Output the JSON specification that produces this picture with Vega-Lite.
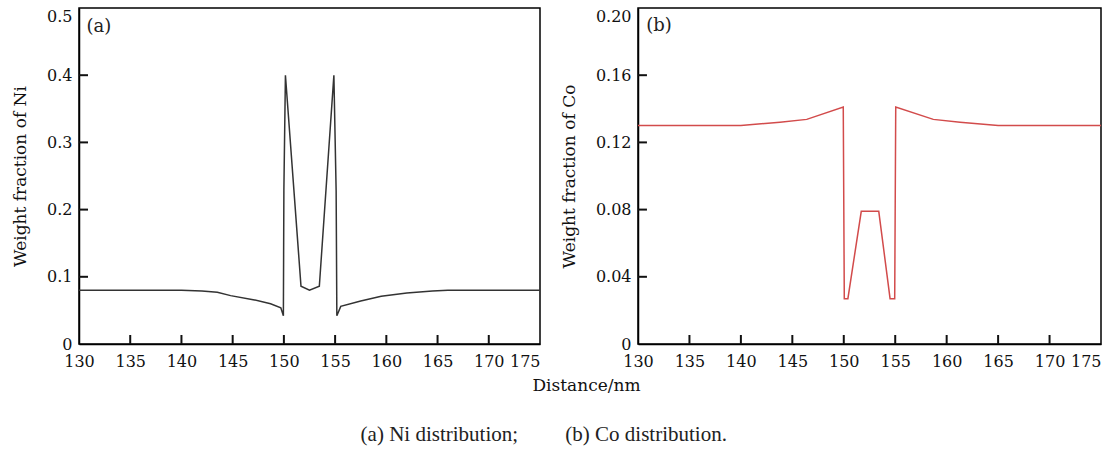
{
  "$schema": "https://vega.github.io/schema/vega-lite/v6.json",
  "background": "white",
  "padding": {"left": 10, "top": 7, "right": 9, "bottom": 1},
  "config": {
    "font": "DejaVu Serif",
    "view": {"stroke": "black", "strokeWidth": 1.5},
    "axis": {
      "grid": false,
      "ticks": false,
      "domainColor": "black",
      "domainWidth": 1.5,
      "labelFont": "DejaVu Serif",
      "labelFontSize": 16,
      "labelColor": "#111",
      "titleFont": "DejaVu Serif",
      "titleFontSize": 17,
      "titleFontWeight": "normal",
      "titleColor": "#111"
    }
  },
  "title": {
    "text": "(a) Ni distribution;\u2003\u2003 (b) Co distribution.",
    "orient": "bottom",
    "anchor": "middle",
    "font": "Liberation Serif",
    "fontSize": 21,
    "fontWeight": "normal",
    "color": "#222",
    "offset": 30,
    "dx": -14
  },
  "datasets": {
    "ni": [
      {"distance": 130, "ni": 0.08},
      {"distance": 140, "ni": 0.08},
      {"distance": 142, "ni": 0.079},
      {"distance": 143.5, "ni": 0.077},
      {"distance": 144.8, "ni": 0.072},
      {"distance": 147, "ni": 0.066},
      {"distance": 148.7, "ni": 0.06},
      {"distance": 149.7, "ni": 0.054},
      {"distance": 149.95, "ni": 0.042},
      {"distance": 150.0, "ni": 0.23},
      {"distance": 150.15, "ni": 0.4},
      {"distance": 151.67, "ni": 0.086},
      {"distance": 152.5, "ni": 0.08},
      {"distance": 153.46, "ni": 0.086},
      {"distance": 154.88, "ni": 0.4},
      {"distance": 155.1, "ni": 0.228},
      {"distance": 155.17, "ni": 0.042},
      {"distance": 155.55, "ni": 0.056},
      {"distance": 157.5, "ni": 0.064},
      {"distance": 159.5, "ni": 0.071},
      {"distance": 162, "ni": 0.076},
      {"distance": 164.5, "ni": 0.079},
      {"distance": 166, "ni": 0.08},
      {"distance": 175, "ni": 0.08}
    ],
    "co": [
      {"distance": 130, "co": 0.13},
      {"distance": 140, "co": 0.13},
      {"distance": 143.8, "co": 0.132},
      {"distance": 146.4, "co": 0.1337},
      {"distance": 149.95, "co": 0.141},
      {"distance": 150.05, "co": 0.027},
      {"distance": 150.4, "co": 0.027},
      {"distance": 151.7, "co": 0.079},
      {"distance": 153.4, "co": 0.079},
      {"distance": 154.5, "co": 0.027},
      {"distance": 154.95, "co": 0.027},
      {"distance": 155.05, "co": 0.141},
      {"distance": 158.7, "co": 0.1337},
      {"distance": 161.3, "co": 0.132},
      {"distance": 165, "co": 0.13},
      {"distance": 175, "co": 0.13}
    ],
    "xticks": [
      {"tick": 135}, {"tick": 140}, {"tick": 145}, {"tick": 150},
      {"tick": 155}, {"tick": 160}, {"tick": 165}, {"tick": 170}
    ],
    "niticks": [{"tick": 0.1}, {"tick": 0.2}, {"tick": 0.3}, {"tick": 0.4}],
    "coticks": [{"tick": 0.04}, {"tick": 0.08}, {"tick": 0.12}, {"tick": 0.16}],
    "labelA": [{"label": "(a)"}],
    "labelB": [{"label": "(b)"}]
  },
  "bounds": "flush",
  "spacing": 98,
  "hconcat": [
    {
      "width": 461,
      "height": 336,
      "layer": [
        {
          "data": {"name": "ni"},
          "mark": {"type": "line", "color": "#333333", "strokeWidth": 1.5},
          "encoding": {
            "x": {
              "field": "distance",
              "type": "quantitative",
              "scale": {"domain": [130, 175], "nice": false, "zero": false},
              "axis": {
                "values": [130, 135, 140, 145, 150, 155, 160, 165, 170, 175],
                "format": "d",
                "labelPadding": 9,
                "labelAlign": {"condition": {"test": "datum.value >= 175", "value": "right"}, "value": "center"},
                "title": "Distance/nm",
                "titleX": 507,
                "titleY": 33,
                "titleBaseline": "top"
              }
            },
            "y": {
              "field": "ni",
              "type": "quantitative",
              "scale": {"domain": [0, 0.5], "nice": false},
              "axis": {
                "values": [0, 0.1, 0.2, 0.3, 0.4, 0.5],
                "labelExpr": "datum.value === 0 ? '0' : format(datum.value, '.1f')",
                "labelPadding": 7,
                "labelBaseline": {"condition": {"test": "datum.value >= 0.49", "value": "top"}, "value": "middle"},
                "title": "Weight fraction of Ni",
                "titlePadding": 17
              }
            }
          }
        },
        {
          "data": {"name": "xticks"},
          "mark": {"type": "rule", "stroke": "#111111", "strokeWidth": 2},
          "encoding": {
            "x": {"field": "tick", "type": "quantitative"},
            "y": {"datum": 0, "type": "quantitative"},
            "y2": {"datum": 0.0134}
          }
        },
        {
          "data": {"name": "niticks"},
          "mark": {"type": "rule", "stroke": "#111111", "strokeWidth": 2},
          "encoding": {
            "y": {"field": "tick", "type": "quantitative"},
            "x": {"datum": 130, "type": "quantitative"},
            "x2": {"datum": 130.88}
          }
        },
        {
          "data": {"name": "labelA"},
          "mark": {"type": "text", "font": "DejaVu Serif", "fontSize": 18, "color": "#222", "align": "center", "baseline": "middle"},
          "encoding": {
            "x": {"datum": 131.95, "type": "quantitative"},
            "y": {"datum": 0.4717, "type": "quantitative"},
            "text": {"field": "label"}
          }
        }
      ]
    },
    {
      "width": 463,
      "height": 336,
      "layer": [
        {
          "data": {"name": "co"},
          "mark": {"type": "line", "color": "#d24b4b", "strokeWidth": 1.5},
          "encoding": {
            "x": {
              "field": "distance",
              "type": "quantitative",
              "scale": {"domain": [130, 175], "nice": false, "zero": false},
              "axis": {
                "values": [130, 135, 140, 145, 150, 155, 160, 165, 170, 175],
                "format": "d",
                "labelPadding": 9,
                "labelAlign": {"condition": {"test": "datum.value >= 175", "value": "right"}, "value": "center"},
                "title": null
              }
            },
            "y": {
              "field": "co",
              "type": "quantitative",
              "scale": {"domain": [0, 0.2], "nice": false},
              "axis": {
                "values": [0, 0.04, 0.08, 0.12, 0.16, 0.2],
                "labelExpr": "datum.value === 0 ? '0' : format(datum.value, '.2f')",
                "labelPadding": 7,
                "labelBaseline": {"condition": {"test": "datum.value >= 0.19", "value": "top"}, "value": "middle"},
                "title": "Weight fraction of Co",
                "titlePadding": 17
              }
            }
          }
        },
        {
          "data": {"name": "xticks"},
          "mark": {"type": "rule", "stroke": "#111111", "strokeWidth": 2},
          "encoding": {
            "x": {"field": "tick", "type": "quantitative"},
            "y": {"datum": 0, "type": "quantitative"},
            "y2": {"datum": 0.00536}
          }
        },
        {
          "data": {"name": "coticks"},
          "mark": {"type": "rule", "stroke": "#111111", "strokeWidth": 2},
          "encoding": {
            "y": {"field": "tick", "type": "quantitative"},
            "x": {"datum": 130, "type": "quantitative"},
            "x2": {"datum": 130.87}
          }
        },
        {
          "data": {"name": "labelB"},
          "mark": {"type": "text", "font": "DejaVu Serif", "fontSize": 18, "color": "#222", "align": "center", "baseline": "middle"},
          "encoding": {
            "x": {"datum": 132.04, "type": "quantitative"},
            "y": {"datum": 0.189, "type": "quantitative"},
            "text": {"field": "label"}
          }
        }
      ]
    }
  ]
}
